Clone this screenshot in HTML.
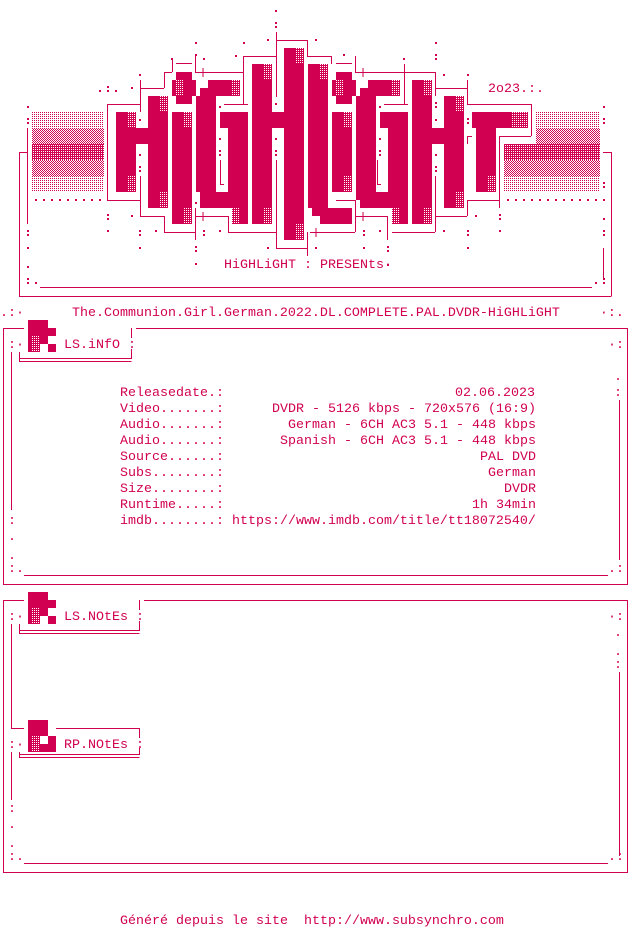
<!DOCTYPE html>
<html><head><meta charset="utf-8"><style>
html,body{margin:0;padding:0;background:#fff;width:632px;height:928px;overflow:hidden}
svg{display:block}
text{font-family:"Liberation Mono",monospace;font-size:13.33px;fill:#d10050;white-space:pre}
</style></head><body>
<svg width="632" height="928" viewBox="0 0 632 928" xmlns="http://www.w3.org/2000/svg">
<defs>
<pattern id="dw" width="2" height="2" patternUnits="userSpaceOnUse"><rect width="2" height="2" fill="#d10050"/><rect width="1" height="1" fill="#fff"/></pattern>
<pattern id="pl" width="2" height="2" patternUnits="userSpaceOnUse"><rect width="1" height="1" fill="#d10050"/></pattern>
<pattern id="pm" width="2" height="2" patternUnits="userSpaceOnUse"><rect width="1" height="1" fill="#d10050"/><rect x="1" y="1" width="1" height="1" fill="#d10050"/></pattern>
<pattern id="pd" width="2" height="2" patternUnits="userSpaceOnUse"><rect width="2" height="2" fill="#d10050"/><rect x="1" y="1" width="1" height="1" fill="#fff"/></pattern>
</defs>
<g fill="#d10050">
<!-- gradient panels -->
<rect x="32" y="111" width="72" height="17" fill="url(#pl)"/>
<rect x="32" y="128" width="72" height="16" fill="url(#pm)"/>
<rect x="32" y="144" width="72" height="16" fill="url(#pd)"/>
<rect x="32" y="160" width="72" height="16" fill="url(#pm)"/>
<rect x="32" y="176" width="72" height="16" fill="url(#pl)"/>
<rect x="536" y="111" width="64" height="17" fill="url(#pl)"/>
<rect x="536" y="128" width="64" height="16" fill="url(#pm)"/>
<rect x="504" y="144" width="96" height="16" fill="url(#pd)"/>
<rect x="504" y="160" width="96" height="16" fill="url(#pm)"/>
<rect x="504" y="176" width="96" height="16" fill="url(#pl)"/>
<!-- H -->
<rect x="116" y="112" width="20" height="80"/><rect x="136" y="128" width="12" height="16"/><rect x="148" y="96" width="20" height="112"/>
<!-- i -->
<rect x="176" y="72" width="16" height="8"/><rect x="172" y="80" width="24" height="16"/><rect x="176" y="96" width="16" height="8"/>
<rect x="172" y="112" width="20" height="112"/>
<!-- G -->
<rect x="196" y="96" width="20" height="96"/><rect x="200" y="88" width="8" height="8"/><rect x="208" y="80" width="32" height="16"/>
<rect x="200" y="192" width="48" height="16"/><rect x="232" y="208" width="16" height="16"/>
<rect x="220" y="112" width="28" height="16"/><rect x="228" y="128" width="20" height="64"/>
<!-- H2 -->
<rect x="252" y="64" width="20" height="160"/><rect x="272" y="112" width="12" height="16"/><rect x="284" y="48" width="20" height="192"/>
<!-- L -->
<rect x="308" y="64" width="20" height="144"/><rect x="312" y="208" width="40" height="8"/><rect x="320" y="216" width="32" height="8"/>
<!-- i2 -->
<rect x="336" y="72" width="16" height="8"/><rect x="332" y="80" width="24" height="16"/><rect x="336" y="96" width="16" height="8"/>
<rect x="332" y="112" width="20" height="80"/>
<!-- G2 -->
<rect x="356" y="96" width="20" height="104"/><rect x="360" y="88" width="8" height="8"/><rect x="368" y="80" width="32" height="16"/>
<rect x="360" y="192" width="48" height="16"/><rect x="392" y="208" width="16" height="16"/>
<rect x="380" y="112" width="28" height="16"/><rect x="388" y="128" width="20" height="64"/>
<!-- H3 -->
<rect x="412" y="80" width="20" height="144"/><rect x="432" y="128" width="12" height="16"/><rect x="444" y="96" width="20" height="112"/>
<!-- T -->
<rect x="472" y="112" width="56" height="16"/><rect x="476" y="128" width="20" height="64"/>
</g>
<g fill="url(#dw)">
<rect x="128" y="112" width="8" height="16"/><rect x="128" y="176" width="8" height="16"/>
<rect x="160" y="96" width="8" height="16"/><rect x="160" y="192" width="8" height="16"/>
<rect x="176" y="80" width="8" height="16"/><rect x="184" y="112" width="8" height="16"/><rect x="184" y="208" width="8" height="16"/>
<rect x="232" y="80" width="8" height="16"/><rect x="232" y="208" width="8" height="16"/>
<rect x="264" y="64" width="8" height="16"/><rect x="264" y="208" width="8" height="16"/>
<rect x="296" y="48" width="8" height="16"/><rect x="296" y="224" width="8" height="16"/>
<rect x="320" y="64" width="8" height="16"/><rect x="336" y="80" width="8" height="16"/>
<rect x="344" y="112" width="8" height="16"/><rect x="344" y="176" width="8" height="16"/>
<rect x="392" y="80" width="8" height="16"/><rect x="392" y="208" width="8" height="16"/>
<rect x="424" y="80" width="8" height="16"/><rect x="424" y="208" width="8" height="16"/>
<rect x="456" y="96" width="8" height="16"/><rect x="456" y="192" width="8" height="16"/>
<rect x="512" y="112" width="16" height="16"/><rect x="488" y="176" width="8" height="16"/>
</g>
<!-- logo outline lines -->
<g stroke="#d10050" stroke-width="1" fill="none" shape-rendering="crispEdges">
<path d="M276.5 32V97M276 40.5H307.5V56.5H331.5V64"/>
<path d="M243 56.5H276.5M243.5 56V104"/>
<path d="M195 72.5H243M195.5 56V72"/>
<path d="M176 63.5H192M172.5 59V72M164 72.5H172M164.5 72V88M140 88.5H164M140.5 80V112"/>
<path d="M107 104.5H140M107.5 104V200M107 200.5H140M140.5 176V216M140 216.5H164M164.5 216V232M164 232.5H195M195.5 208V240"/>
<path d="M195 216.5H228M228.5 216V232M228 232.5H276M276.5 160V248M276 248.5H307M307.5 232V256"/>
<path d="M220.5 160V184M220 184.5H224M224 104.5H248"/>
<path d="M336 63.5H352M355.5 56V72M355 72.5H435M404.5 64V104M384 104.5H408"/>
<path d="M435.5 72V96M435 88.5H467M467.5 80V104M467 104.5H531M531.5 104V136M499 136.5H531M499.5 136V208M467.5 136V144M467 136.5H472"/>
<path d="M377.5 160V184M377 184.5H381"/>
<path d="M336 200.5H355M355.5 200V232M310 232.5H355M355 216.5H387M387.5 216V240M392 232.5H435M435.5 176V232M435 216.5H467M467.5 200V216M467 200.5H499M499.5 200V208"/>
<path d="M27.5 128V224M19.5 152V296.5M19 296.5H611.5M611.5 152V296M603 152.5H611M19 152.5H27"/>
<path d="M40 287.5H592M603.5 248V280"/>
<path d="M203 68V77M198.5 72.5H207.5M203 212V221M198.5 216.5H207.5M316 228V237M311.5 232.5H320.5M363 68V77M358.5 72.5H367.5M363 212V221M358.5 216.5H367.5"/>
</g>
<g fill="#d10050">
<rect x="275" y="10" width="2" height="2"/><rect x="275" y="22" width="2" height="2"/><rect x="275" y="26" width="2" height="2"/>
<rect x="243" y="42" width="2" height="2"/><rect x="267" y="39" width="2" height="2"/><rect x="315" y="39" width="2" height="2"/><rect x="195" y="42" width="2" height="2"/>
<rect x="195" y="54" width="2" height="2"/><rect x="203" y="58" width="2" height="2"/><rect x="171" y="58" width="2" height="2"/><rect x="235" y="55" width="2" height="2"/>
<rect x="139" y="74" width="2" height="2"/><rect x="131" y="87" width="2" height="2"/><rect x="99" y="90" width="2" height="2"/><rect x="107" y="86" width="2" height="2"/><rect x="107" y="90" width="2" height="2"/><rect x="115" y="90" width="2" height="2"/>
<rect x="27" y="106" width="2" height="2"/><rect x="27" y="118" width="2" height="2"/><rect x="27" y="122" width="2" height="2"/>
<rect x="139" y="119" width="2" height="2"/><rect x="139" y="154" width="2" height="2"/><rect x="139" y="166" width="2" height="2"/><rect x="139" y="170" width="2" height="2"/>
<rect x="219" y="106" width="2" height="2"/><rect x="219" y="138" width="2" height="2"/><rect x="219" y="150" width="2" height="2"/><rect x="219" y="154" width="2" height="2"/>
<rect x="275" y="103" width="2" height="2"/><rect x="275" y="138" width="2" height="2"/><rect x="275" y="150" width="2" height="2"/><rect x="275" y="154" width="2" height="2"/>
<rect x="35" y="199" width="2" height="2"/><rect x="43" y="199" width="2" height="2"/><rect x="51" y="199" width="2" height="2"/><rect x="59" y="199" width="2" height="2"/><rect x="67" y="199" width="2" height="2"/><rect x="75" y="199" width="2" height="2"/><rect x="83" y="199" width="2" height="2"/><rect x="91" y="199" width="2" height="2"/><rect x="99" y="199" width="2" height="2"/>
<rect x="107" y="214" width="2" height="2"/><rect x="107" y="218" width="2" height="2"/><rect x="131" y="215" width="2" height="2"/><rect x="195" y="202" width="2" height="2"/>
<rect x="27" y="230" width="2" height="2"/><rect x="27" y="234" width="2" height="2"/><rect x="27" y="247" width="2" height="2"/><rect x="27" y="266" width="2" height="2"/><rect x="27" y="278" width="2" height="2"/><rect x="27" y="282" width="2" height="2"/><rect x="35" y="282" width="2" height="2"/>
<rect x="107" y="230" width="2" height="2"/><rect x="139" y="230" width="2" height="2"/><rect x="139" y="234" width="2" height="2"/><rect x="155" y="230" width="2" height="2"/><rect x="139" y="247" width="2" height="2"/>
<rect x="203" y="230" width="2" height="2"/><rect x="203" y="234" width="2" height="2"/><rect x="219" y="230" width="2" height="2"/><rect x="195" y="246" width="2" height="2"/><rect x="195" y="250" width="2" height="2"/><rect x="195" y="263" width="2" height="2"/>
<rect x="267" y="247" width="2" height="2"/><rect x="315" y="247" width="2" height="2"/><rect x="363" y="230" width="2" height="2"/><rect x="363" y="234" width="2" height="2"/><rect x="379" y="230" width="2" height="2"/><rect x="363" y="247" width="2" height="2"/><rect x="387" y="246" width="2" height="2"/><rect x="387" y="250" width="2" height="2"/><rect x="387" y="264" width="2" height="2"/>
<rect x="343" y="54" width="2" height="2"/><rect x="403" y="58" width="2" height="2"/><rect x="435" y="42" width="2" height="2"/><rect x="435" y="54" width="2" height="2"/><rect x="435" y="58" width="2" height="2"/>
<rect x="443" y="74" width="2" height="2"/><rect x="467" y="74" width="2" height="2"/><rect x="379" y="106" width="2" height="2"/><rect x="379" y="138" width="2" height="2"/><rect x="379" y="150" width="2" height="2"/><rect x="379" y="154" width="2" height="2"/>
<rect x="435" y="102" width="2" height="2"/><rect x="435" y="106" width="2" height="2"/><rect x="435" y="119" width="2" height="2"/><rect x="435" y="154" width="2" height="2"/><rect x="435" y="166" width="2" height="2"/><rect x="435" y="170" width="2" height="2"/>
<rect x="467" y="118" width="2" height="2"/><rect x="467" y="122" width="2" height="2"/>
<rect x="443" y="230" width="2" height="2"/><rect x="467" y="230" width="2" height="2"/><rect x="467" y="234" width="2" height="2"/><rect x="475" y="215" width="2" height="2"/><rect x="499" y="214" width="2" height="2"/><rect x="499" y="218" width="2" height="2"/><rect x="499" y="230" width="2" height="2"/><rect x="467" y="247" width="2" height="2"/>
<rect x="507" y="199" width="2" height="2"/><rect x="515" y="199" width="2" height="2"/><rect x="523" y="199" width="2" height="2"/><rect x="531" y="199" width="2" height="2"/><rect x="539" y="199" width="2" height="2"/><rect x="547" y="199" width="2" height="2"/><rect x="555" y="199" width="2" height="2"/><rect x="563" y="199" width="2" height="2"/><rect x="571" y="199" width="2" height="2"/><rect x="579" y="199" width="2" height="2"/><rect x="587" y="199" width="2" height="2"/><rect x="595" y="199" width="2" height="2"/><rect x="603" y="199" width="2" height="2"/>
<rect x="603" y="106" width="2" height="2"/><rect x="603" y="118" width="2" height="2"/><rect x="603" y="122" width="2" height="2"/><rect x="603" y="182" width="2" height="2"/><rect x="603" y="186" width="2" height="2"/><rect x="603" y="218" width="2" height="2"/><rect x="603" y="230" width="2" height="2"/><rect x="603" y="234" width="2" height="2"/><rect x="595" y="282" width="2" height="2"/><rect x="603" y="278" width="2" height="2"/><rect x="603" y="282" width="2" height="2"/>
</g>
<text x="488" y="92">2o23.:.</text>
<text x="224" y="268">HiGHLiGHT : PRESENts·</text>

<!-- title -->
<text x="0" y="316">.:·      The.Communion.Girl.German.2022.DL.COMPLETE.PAL.DVDR-HiGHLiGHT     ·:.</text>

<g stroke="#d10050" fill="none" shape-rendering="crispEdges">
<!-- box1 -->
<path d="M3.5 328V584.5H627.5V328.5H136M3 328.5H24"/>
<path d="M131.5 328V338M19 358.5H131.5V349M19 361.5H131.5M19.5 352V361"/>
<path d="M11.5 352V510M24 575.5H608M619.5 400V560"/>
<!-- box2 -->
<path d="M3.5 600V872.5H627.5V600.5H144M3 600.5H24"/>
<path d="M139.5 600V610M19 630.5H139.5V621M19 633.5H139.5M19.5 624V633"/>
<path d="M11.5 624V728.5H24M56 728.5H139.5V738M19 754.5H139.5V748M19 757.5H139.5M19.5 752V757M11.5 752V800"/>
<path d="M24 863.5H608M619.5 672V856"/>
</g>
<g fill="#d10050">
<!-- icon1 -->
<rect x="28" y="320" width="20" height="16"/><rect x="48" y="328" width="8" height="8"/><rect x="40" y="336" width="8" height="8"/><rect x="48" y="344" width="8" height="8"/>
<rect x="28" y="336" width="12" height="16"/>
<!-- icon2 -->
<rect x="28" y="592" width="20" height="16"/><rect x="48" y="600" width="8" height="8"/><rect x="40" y="608" width="8" height="8"/><rect x="48" y="616" width="8" height="8"/>
<rect x="28" y="608" width="12" height="16"/>
<!-- icon3 -->
<rect x="28" y="720" width="20" height="16"/><rect x="48" y="736" width="8" height="16"/><rect x="40" y="744" width="8" height="8"/><rect x="28" y="736" width="12" height="16"/>
</g>
<g fill="url(#dw)">
<rect x="32" y="336" width="8" height="16"/><rect x="32" y="608" width="8" height="16"/><rect x="32" y="736" width="8" height="16"/>
</g>
<text x="8" y="348">:·</text><text x="64" y="348">LS.iNfO :</text>
<text x="608" y="348">·:</text><text x="614" y="380">.</text><text x="614" y="396">:</text>
<text x="120" y="396">Releasedate.:</text><text x="455" y="396">02.06.2023</text>
<text x="120" y="412">Video.......:</text><text x="272" y="412">DVDR - 5126 kbps - 720x576 (16:9)</text>
<text x="120" y="428">Audio.......:</text><text x="288" y="428">German - 6CH AC3 5.1 - 448 kbps</text>
<text x="120" y="444">Audio.......:</text><text x="280" y="444">Spanish - 6CH AC3 5.1 - 448 kbps</text>
<text x="120" y="460">Source......:</text><text x="480" y="460">PAL DVD</text>
<text x="120" y="476">Subs........:</text><text x="488" y="476">German</text>
<text x="120" y="492">Size........:</text><text x="504" y="492">DVDR</text>
<text x="120" y="508">Runtime.....:</text><text x="472" y="508">1h 34min</text>
<text x="8" y="524">:</text><text x="120" y="524">imdb........: https://www.imdb.com/title/tt18072540/</text>
<text x="8" y="540">.</text><text x="8" y="559">.</text>
<text x="8" y="572">:.</text><text x="608" y="572">.:</text>

<text x="8" y="620">:·</text><text x="64" y="620">LS.NOtEs :</text>
<text x="608" y="620">·:</text><text x="614" y="636">.</text><text x="614" y="655">.</text><text x="614" y="668">:</text>
<text x="8" y="748">:·</text><text x="64" y="748">RP.NOtEs :</text>
<text x="8" y="812">:</text><text x="8" y="828">.</text><text x="8" y="847">.</text>
<text x="8" y="860">:.</text><text x="608" y="860">.:</text>

<text x="120" y="924">Généré depuis le site  http://www.subsynchro.com</text>
</svg>
</body></html>
